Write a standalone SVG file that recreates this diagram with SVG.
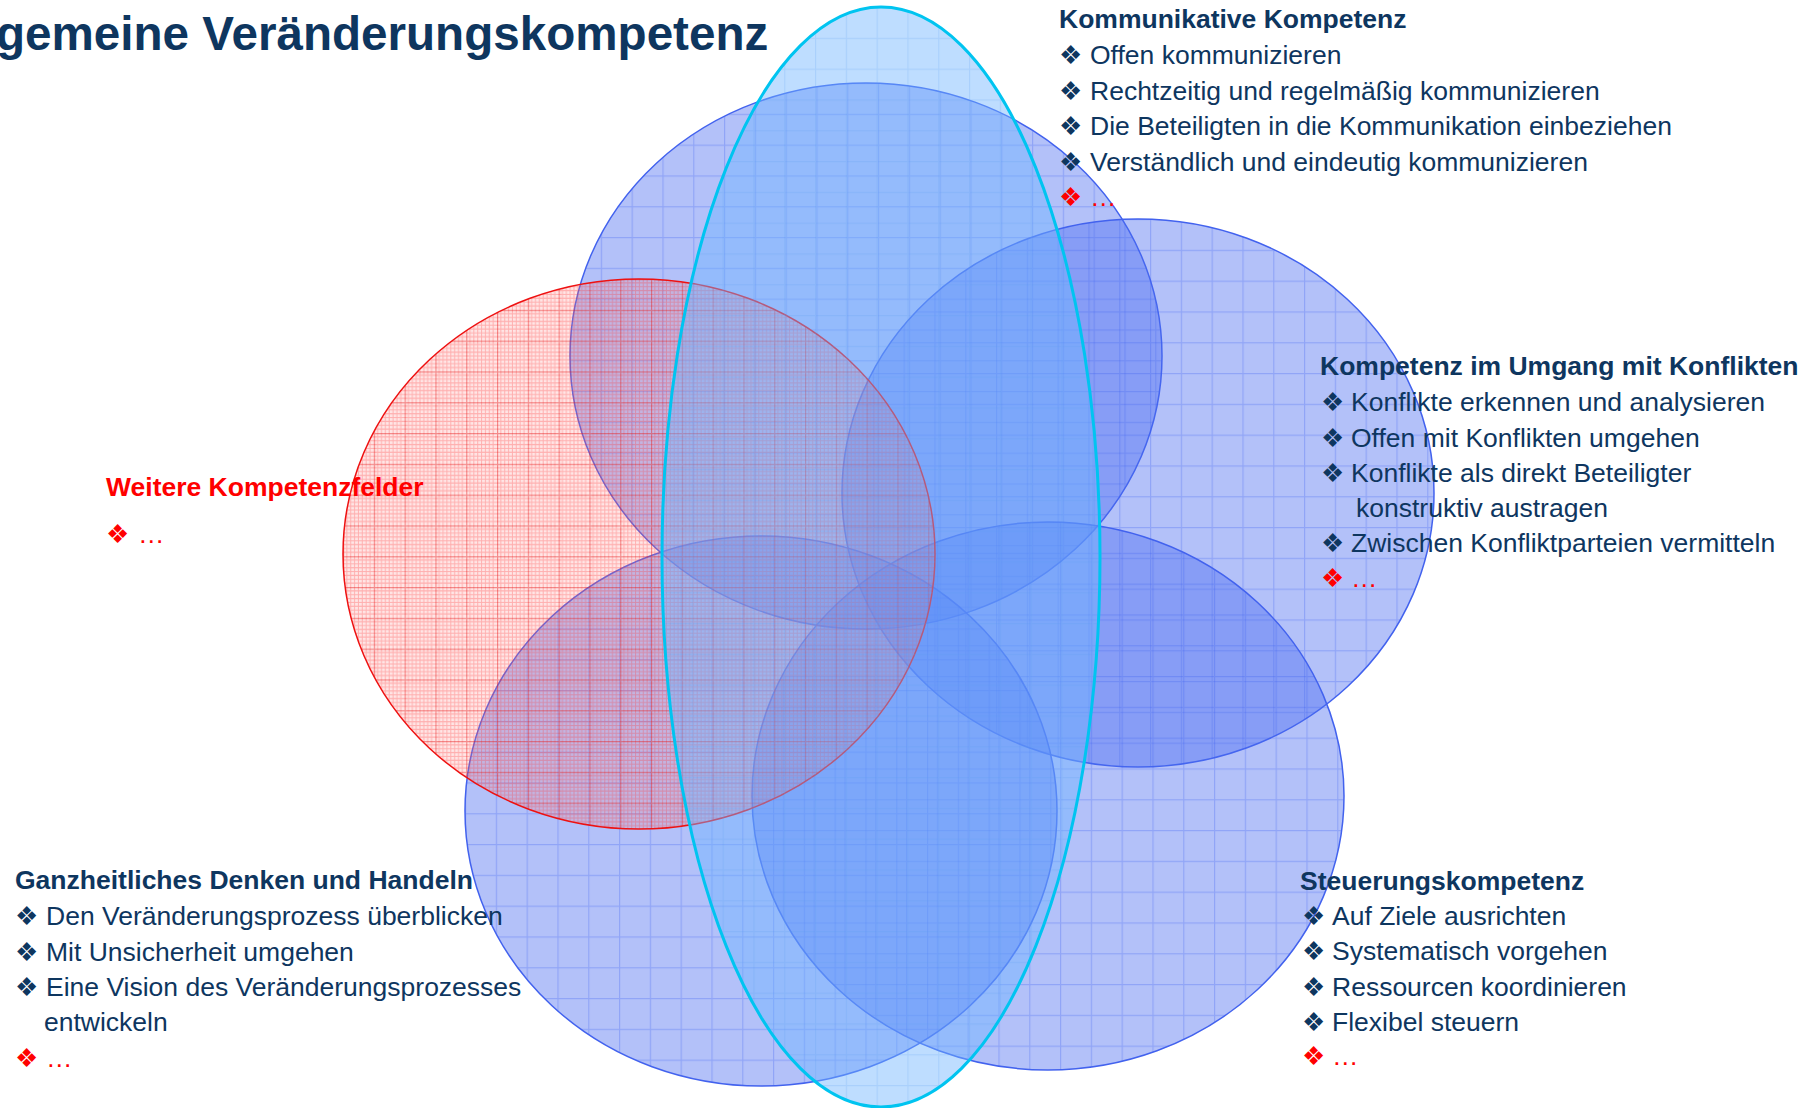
<svg xmlns="http://www.w3.org/2000/svg" xmlns:xlink="http://www.w3.org/1999/xlink" width="1816" height="1108" viewBox="0 0 1816 1108">
  <style>
    text { font-family: "Liberation Sans", Arial, Helvetica, sans-serif; font-size: 26.5px; fill: #0e365f; }
    .title { font-size: 47.6px; font-weight: bold; }
    .h { font-weight: bold; }
    .red { fill: #ff0000; }
    .b { font-family: "DejaVu Sans", sans-serif; font-size: 26px; }
    .blue { stroke: #4262ee; stroke-width: 1.5; }
    .cyan { stroke: #00c4f0; stroke-width: 3; }
    .redring { stroke: #ee1111; stroke-width: 1.5; }
  </style>
  <defs>
    <pattern id="pb" patternUnits="userSpaceOnUse" width="30.8" height="30.8" x="0" y="0">
      <rect width="30.8" height="30.8" fill="#4a6cf0" fill-opacity="0.42"/>
      <path d="M0.6 0V30.8M0 0.6H30.8" stroke="#3a5cf0" stroke-opacity="0.28" stroke-width="1.2" fill="none"/>
    </pattern>
    <pattern id="pTop" href="#pb" xlink:href="#pb" x="570" y="83"/>
    <pattern id="pRight" href="#pb" xlink:href="#pb" x="842" y="219"/>
    <pattern id="pBR" href="#pb" xlink:href="#pb" x="752" y="522"/>
    <pattern id="pBL" href="#pb" xlink:href="#pb" x="465" y="536"/>
    <pattern id="pc" patternUnits="userSpaceOnUse" width="30.8" height="30.8" x="661" y="7">
      <rect width="30.8" height="30.8" fill="#6fb3ff" fill-opacity="0.45"/>
      <path d="M0.6 0V30.8M0 0.6H30.8" stroke="#5c9cf0" stroke-opacity="0.2" stroke-width="1.2" fill="none"/>
    </pattern>
    <pattern id="pr" patternUnits="userSpaceOnUse" width="30.8" height="30.8" x="343" y="279">
      <rect width="30.8" height="30.8" fill="#ff8080" fill-opacity="0.2"/>
      <path d="M3.85 0V30.8M7.7 0V30.8M11.55 0V30.8M15.4 0V30.8M19.25 0V30.8M23.1 0V30.8M26.95 0V30.8M0 3.85H30.8M0 7.7H30.8M0 11.55H30.8M0 15.4H30.8M0 19.25H30.8M0 23.1H30.8M0 26.95H30.8" stroke="#ff3030" stroke-opacity="0.3" stroke-width="1" fill="none"/>
      <path d="M0.6 0V30.8M0 0.6H30.8" stroke="#e81a1a" stroke-opacity="0.45" stroke-width="1.2" fill="none"/>
    </pattern>
  </defs>

  <g id="shapes">
    <ellipse id="ellipse-top" class="blue" cx="866" cy="356" rx="296" ry="273" fill="url(#pTop)"/>
    <ellipse id="ellipse-right" class="blue" cx="1138" cy="493" rx="296" ry="274" fill="url(#pRight)"/>
    <ellipse id="ellipse-bottom-right" class="blue" cx="1048" cy="796" rx="296" ry="274" fill="url(#pBR)"/>
    <ellipse id="ellipse-bottom-left" class="blue" cx="761" cy="811" rx="296" ry="275" fill="url(#pBL)"/>
    <ellipse id="ellipse-red" class="redring" cx="639" cy="554" rx="296" ry="275" fill="url(#pr)"/>
    <ellipse id="ellipse-cyan" class="cyan" cx="881" cy="557" rx="219" ry="550" fill="url(#pc)"/>
  </g>

  <g id="title">
    <text class="title" x="-4" y="50">gemeine Veränderungskompetenz</text>
  </g>

  <g id="node-kommunikativ">
    <text class="h" x="1059" y="28">Kommunikative Kompetenz</text>
    <text x="1059" y="64"><tspan class="b">❖</tspan><tspan x="1090">Offen kommunizieren</tspan></text>
    <text x="1059" y="99.5"><tspan class="b">❖</tspan><tspan x="1090">Rechtzeitig und regelmäßig kommunizieren</tspan></text>
    <text x="1059" y="135"><tspan class="b">❖</tspan><tspan x="1090">Die Beteiligten in die Kommunikation einbeziehen</tspan></text>
    <text x="1059" y="170.5"><tspan class="b">❖</tspan><tspan x="1090">Verständlich und eindeutig kommunizieren</tspan></text>
    <text class="red" x="1059" y="206"><tspan class="b">❖</tspan><tspan x="1090">…</tspan></text>
  </g>

  <g id="node-konflikte">
    <text class="h" x="1320" y="375">Kompetenz im Umgang mit Konflikten</text>
    <text x="1321" y="411"><tspan class="b">❖</tspan><tspan x="1351">Konflikte erkennen und analysieren</tspan></text>
    <text x="1321" y="447"><tspan class="b">❖</tspan><tspan x="1351">Offen mit Konflikten umgehen</tspan></text>
    <text x="1321" y="482"><tspan class="b">❖</tspan><tspan x="1351">Konflikte als direkt Beteiligter</tspan></text>
    <text x="1356" y="517">konstruktiv austragen</text>
    <text x="1321" y="552"><tspan class="b">❖</tspan><tspan x="1351">Zwischen Konfliktparteien vermitteln</tspan></text>
    <text class="red" x="1321" y="587"><tspan class="b">❖</tspan><tspan x="1351">…</tspan></text>
  </g>

  <g id="node-weitere">
    <text class="h red" x="106" y="496">Weitere Kompetenzfelder</text>
    <text class="red" x="106" y="543"><tspan class="b">❖</tspan><tspan x="138">…</tspan></text>
  </g>

  <g id="node-ganzheitlich">
    <text class="h" x="15" y="889">Ganzheitliches Denken und Handeln</text>
    <text x="15" y="925"><tspan class="b">❖</tspan><tspan x="46">Den Veränderungsprozess überblicken</tspan></text>
    <text x="15" y="961"><tspan class="b">❖</tspan><tspan x="46">Mit Unsicherheit umgehen</tspan></text>
    <text x="15" y="996"><tspan class="b">❖</tspan><tspan x="46">Eine Vision des Veränderungsprozesses</tspan></text>
    <text x="44" y="1031">entwickeln</text>
    <text class="red" x="15" y="1067"><tspan class="b">❖</tspan><tspan x="46">…</tspan></text>
  </g>

  <g id="node-steuerung">
    <text class="h" x="1300" y="890">Steuerungskompetenz</text>
    <text x="1302" y="925"><tspan class="b">❖</tspan><tspan x="1332">Auf Ziele ausrichten</tspan></text>
    <text x="1302" y="960"><tspan class="b">❖</tspan><tspan x="1332">Systematisch vorgehen</tspan></text>
    <text x="1302" y="996"><tspan class="b">❖</tspan><tspan x="1332">Ressourcen koordinieren</tspan></text>
    <text x="1302" y="1031"><tspan class="b">❖</tspan><tspan x="1332">Flexibel steuern</tspan></text>
    <text class="red" x="1302" y="1065"><tspan class="b">❖</tspan><tspan x="1332">…</tspan></text>
  </g>
</svg>
